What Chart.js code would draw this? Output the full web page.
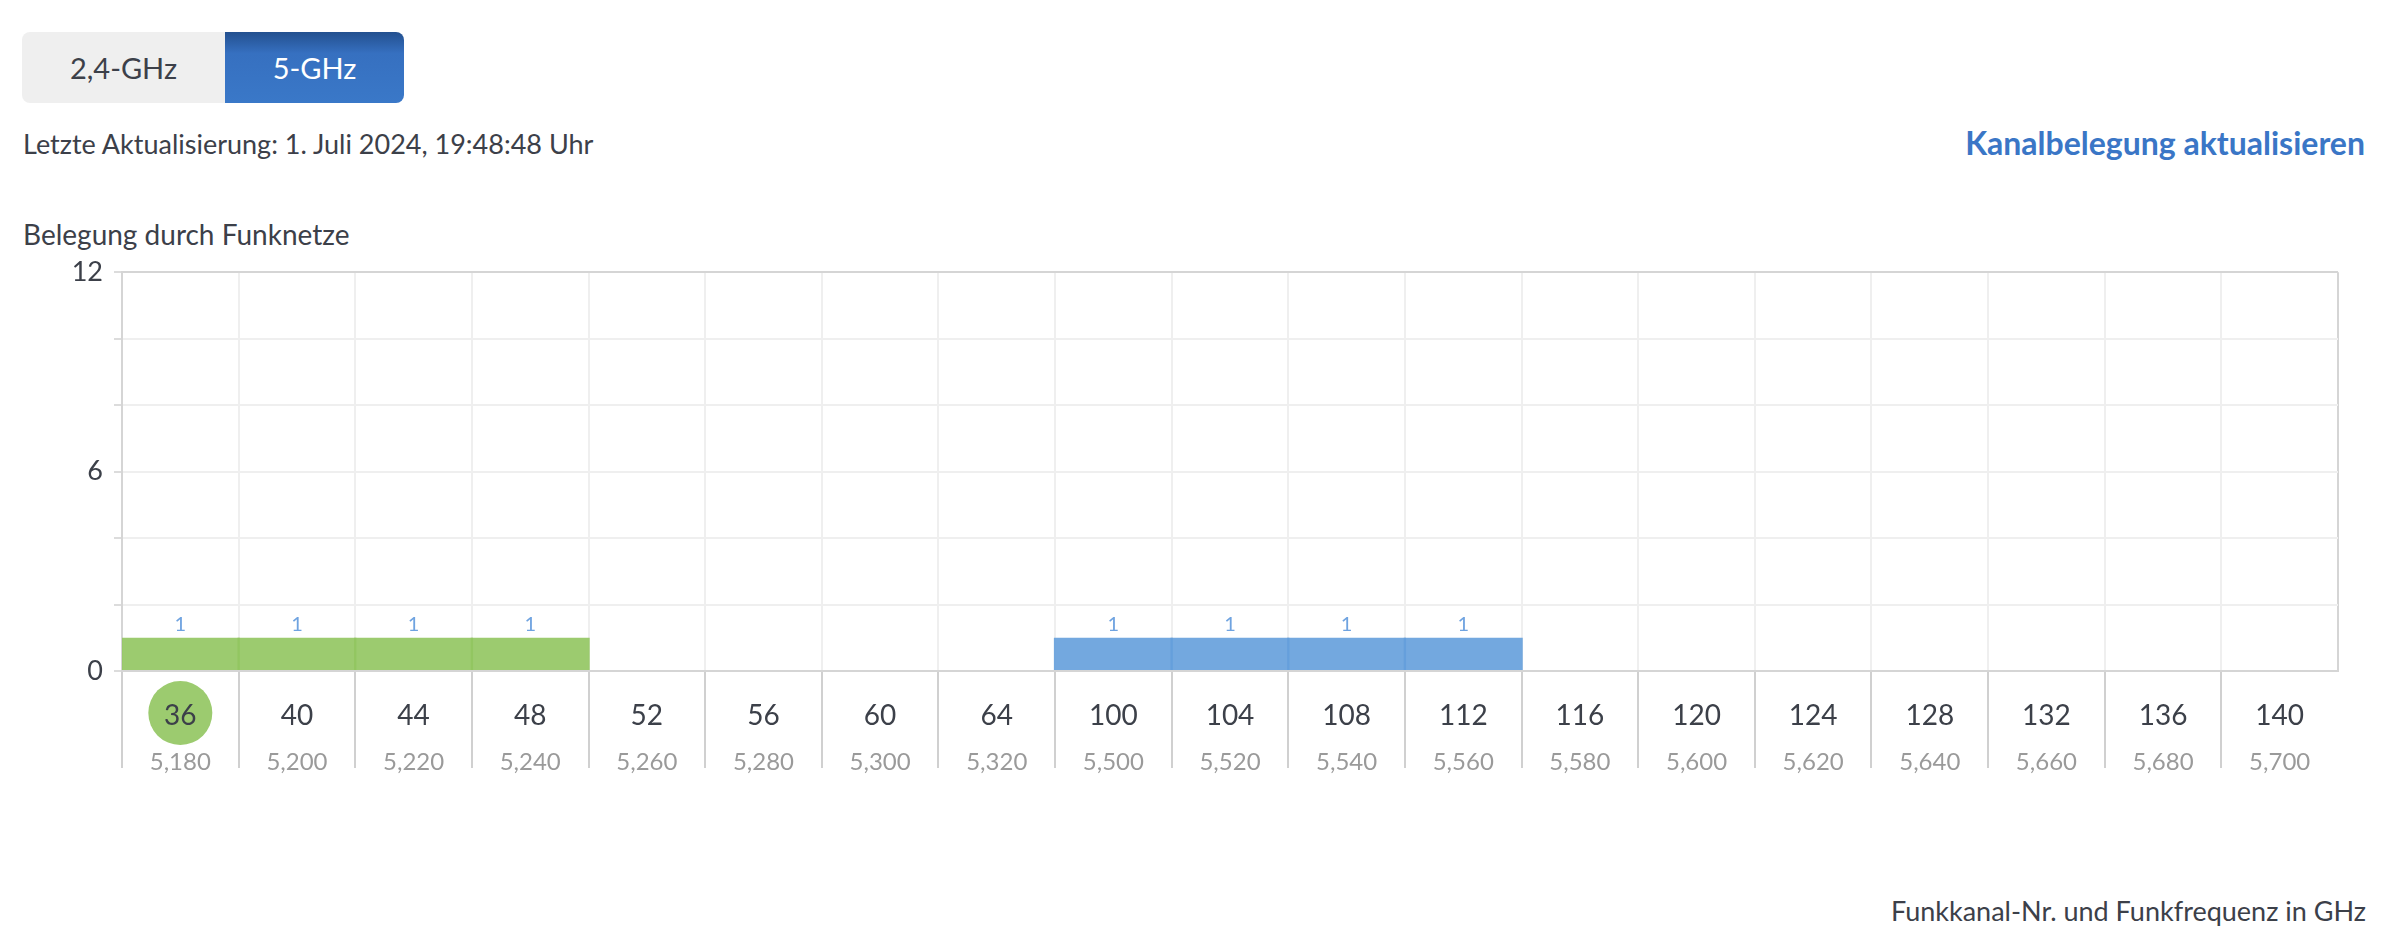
<!DOCTYPE html>
<html lang="de">
<head>
<meta charset="utf-8">
<title>Kanalbelegung 5-GHz</title>
<script src="https://cdn.jsdelivr.net/npm/chart.js@4.4.1/dist/chart.umd.min.js"></script>
<style>
  body { margin: 0; width: 2394px; height: 948px; background: #fff; font-family: "Lato", sans-serif; color: #3c4049; position: relative; overflow: hidden; }
  .band { position: absolute; left: 22px; top: 32px; height: 71px; display: flex; }
  .band button { border: 0; margin: 0; font-family: inherit; font-size: 29px; height: 71px; padding: 0; }
  .band .off { width: 203px; background: #efefef; color: #3c4049; border-radius: 8px 0 0 8px; }
  .band .on { width: 179px; background: linear-gradient(#23508f, #3670c0 30%, #3a78c8); color: #fff; border-radius: 0 8px 8px 0; }
  .stamp { position: absolute; left: 23px; top: 126px; font-size: 27px; line-height: 36px; }
  .refresh { position: absolute; right: 29px; top: 123px; font-size: 32px; line-height: 40px; font-weight: 700; color: #3a76c6; }
  .subtitle { position: absolute; left: 23px; top: 216px; font-size: 28px; line-height: 36px; }
  .axisnote { position: absolute; right: 28px; top: 893px; font-size: 27px; line-height: 36px; }
  .chart-box { position: absolute; left: 0; top: 245px; width: 2394px; height: 545px; }
</style>
</head>
<body>
<div class="band"><button class="off">2,4-GHz</button><button class="on">5-GHz</button></div>
<div class="stamp">Letzte Aktualisierung: 1. Juli 2024, 19:48:48 Uhr</div>
<div class="refresh">Kanalbelegung aktualisieren</div>
<div class="subtitle">Belegung durch Funknetze</div>
<div class="chart-box"><canvas id="channelChart"></canvas></div>
<div class="axisnote">Funkkanal-Nr. und Funkfrequenz in GHz</div>

<script>
const channels = ["36", "40", "44", "48", "52", "56", "60", "64", "100", "104", "108", "112", "116", "120", "124", "128", "132", "136", "140"];
const frequencies = ["5,180", "5,200", "5,220", "5,240", "5,260", "5,280", "5,300", "5,320", "5,500", "5,520", "5,540", "5,560", "5,580", "5,600", "5,620", "5,640", "5,660", "5,680", "5,700"];
// own network (green) and neighbour networks (blue), networks per channel
const ownNetwork = [1, 1, 1, 1, null, null, null, null, null, null, null, null, null, null, null, null, null, null, null];
const otherNetworks = [null, null, null, null, null, null, null, null, 1, 1, 1, 1, null, null, null, null, null, null, null];
const yTicks = [0, 6, 12];
const activeChannel = "36";

Chart.defaults.font.family = "Lato";

// circle behind the channel the box is using
const activeChannelMark = {
  id: "activeChannelMark",
  beforeDraw(chart) {
    const x = chart.scales.x;
    const i = channels.indexOf(activeChannel);
    if (i < 0) return;
    const c = chart.ctx;
    c.save();
    c.fillStyle = "#9ccb6f";
    c.beginPath();
    c.arc(x.getPixelForValue(i), x.top + 42, 32, 0, Math.PI * 2);
    c.fill();
    c.restore();
  }
};

// small count above each bar
const barValues = {
  id: "barValues",
  afterDatasetsDraw(chart) {
    const c = chart.ctx;
    c.save();
    c.font = "20px Lato";
    c.fillStyle = "#6fa3e0";
    c.textAlign = "center";
    c.textBaseline = "middle";
    chart.data.datasets.forEach((ds, di) => {
      chart.getDatasetMeta(di).data.forEach((bar, i) => {
        if (ds.data[i] == null) return;
        c.fillText(ds.data[i], bar.x, bar.y - 13);
      });
    });
    c.restore();
  }
};

const ctx = document.getElementById("channelChart");

new Chart(ctx, {
  type: "bar",
  data: {
    labels: channels,
    datasets: [
      {
        label: "Eigenes Funknetz",
        data: ownNetwork,
        backgroundColor: "rgba(145, 197, 95, 0.9)",
        borderWidth: 0,
        barPercentage: 1.02,
        categoryPercentage: 1
      },
      {
        label: "Andere Funknetze",
        data: otherNetworks,
        backgroundColor: "rgba(100, 158, 220, 0.9)",
        borderWidth: 0,
        barPercentage: 1.02,
        categoryPercentage: 1
      }
    ]
  },
  options: {
    responsive: true,
    maintainAspectRatio: false,
    animation: false,
    layout: { padding: { left: 22, right: 56, top: 22, bottom: 9 } },
    plugins: {
      legend: { display: false },
      tooltip: { enabled: false }
    },
    scales: {
      x: {
        stacked: true,
        offset: true,
        border: { color: "#d5d5d5", width: 2 },
        grid: {
          lineWidth: 2,
          tickLength: 97,
          color: (c) => c.type === "scale" ? "#d5d5d5" : "#efefef",
          tickColor: (c) => c.type === "scale" ? "rgba(0,0,0,0)" : "#d0d0d0",
          tickWidth: 2
        },
        ticks: {
          autoSkip: false,
          maxRotation: 0,
          padding: -69,
          color: "#3c4049",
          font: { size: 28 }
        },
        afterFit: (scale) => { scale.height = 70; }
      },
      x2: {
        type: "category",
        position: "bottom",
        weight: 1,
        labels: frequencies,
        offset: true,
        border: { display: false },
        grid: { display: false, drawTicks: false },
        ticks: {
          autoSkip: false,
          maxRotation: 0,
          padding: 7,
          color: "#9a9a9a",
          font: { size: 24 }
        },
        afterFit: (scale) => { scale.height = 40; }
      },
      y: {
        stacked: true,
        min: 0,
        max: 12,
        border: { color: "#d5d5d5", width: 2 },
        grid: {
          lineWidth: 2,
          tickLength: 8,
          color: (c) => c.tick && c.tick.value === 12 ? "#d5d5d5" : "#efefef",
          tickColor: "#dcdcdc"
        },
        ticks: {
          stepSize: 2,
          padding: 11,
          color: "#3c4049",
          font: { size: 27 },
          callback: (v) => yTicks.includes(v) ? v : ""
        },
        afterFit: (scale) => { scale.width = 100; }
      }
    }
  },
  plugins: [activeChannelMark, barValues]
});
</script>
</body>
</html>
